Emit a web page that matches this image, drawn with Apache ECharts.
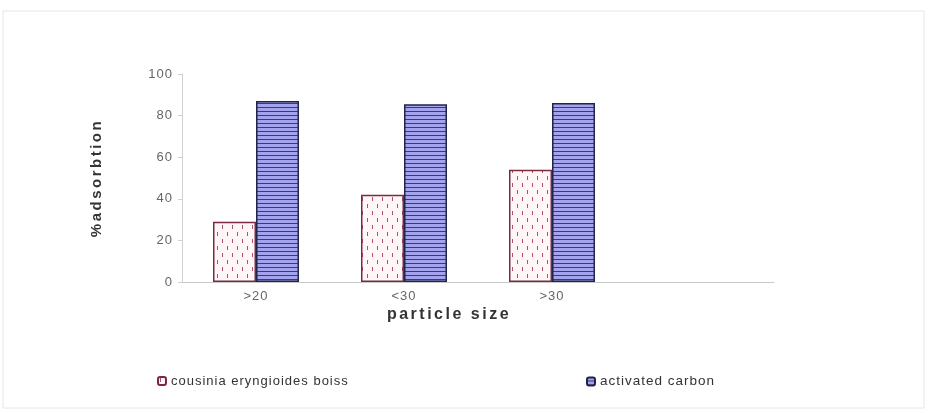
<!DOCTYPE html>
<html><head><meta charset="utf-8">
<script src="https://cdn.jsdelivr.net/npm/echarts@6/dist/echarts.min.js"></script>
<style>html,body{margin:0;padding:0;background:#fff}#c{width:928px;height:413px}</style>
</head><body><div id="c"></div>
<script>
const categories = ['>20', '<30', '>30', ''];
const cousinia = [29, 42, 54, null];
const carbon = [87, 85.5, 86, null];
const yTicks = [0, 20, 40, 60, 80, 100];

// widen glyph spacing like the scanned original
(function () {
  const P = CanvasRenderingContext2D.prototype;
  if (!('letterSpacing' in P)) return;
  const spacing = ctx => (/bold|700/.test(ctx.font) ? '2.5px' : '1px');
  const f = P.fillText, m = P.measureText;
  P.fillText = function () { this.letterSpacing = spacing(this); return f.apply(this, arguments); };
  P.measureText = function () { this.letterSpacing = spacing(this); return m.apply(this, arguments); };
})();

function dotPattern() {
  const c = document.createElement('canvas');
  c.width = 10; c.height = 14;
  const g = c.getContext('2d');
  g.fillStyle = '#fff6f8'; g.fillRect(0, 0, 10, 14);
  g.strokeStyle = '#b0506a'; g.lineWidth = 1;
  g.beginPath(); g.moveTo(2.5, 1); g.lineTo(2.5, 5); g.stroke();
  g.beginPath(); g.moveTo(7.5, 8); g.lineTo(7.5, 12); g.stroke();
  return c;
}
function linePattern() {
  const c = document.createElement('canvas');
  c.width = 8; c.height = 4;
  const g = c.getContext('2d');
  g.fillStyle = '#a4a4ee'; g.fillRect(0, 0, 8, 4);
  g.fillStyle = '#3a3a78'; g.fillRect(0, 3, 8, 1);
  return c;
}

const chart = echarts.init(document.getElementById('c'), null, {renderer: 'canvas'});
const font = 'Liberation Sans, Arial, sans-serif';
chart.setOption({
  animation: false,
  graphic: [{type: 'rect', shape: {x: 3, y: 11, width: 921, height: 397}, style: {fill: 'none', stroke: '#e6e6e6', lineWidth: 1}}],
  grid: {left: 182, right: 154, top: 74, bottom: 131},
  legend: [
    {data: ['cousinia eryngioides boiss'], left: 152, top: 369, itemWidth: 8, itemHeight: 8, itemGap: 4,
     textStyle: {fontFamily: font, fontSize: 13, color: '#333'}},
    {data: ['activated carbon'], left: 581, top: 369, itemWidth: 8, itemHeight: 8,
     textStyle: {fontFamily: font, fontSize: 13.5, color: '#333'}}
  ],
  xAxis: {
    type: 'category', data: categories,
    name: 'particle size', nameLocation: 'middle', nameGap: 23, nameMoveOverlap: false,
    nameTextStyle: {fontFamily: font, fontSize: 16, fontWeight: 'bold', color: '#333', padding: [0, 58, 0, 0]},
    axisLine: {lineStyle: {color: '#c8c8c8'}},
    axisTick: {lineStyle: {color: '#c8c8c8'}, length: 4},
    axisLabel: {fontFamily: font, fontSize: 13, color: '#666', margin: 7}
  },
  yAxis: {
    type: 'value', min: 0, max: 100, interval: 20,
    name: '%adsorbtion', nameLocation: 'middle', nameGap: 76, nameRotate: 90, nameMoveOverlap: false,
    nameTextStyle: {fontFamily: font, fontSize: 15, fontWeight: 'bold', color: '#333'},
    axisLine: {show: true, lineStyle: {color: '#d0d0d0'}},
    axisTick: {show: true, lineStyle: {color: '#d0d0d0'}, length: 4},
    splitLine: {show: false},
    axisLabel: {fontFamily: font, fontSize: 13, color: '#666', margin: 9,
      formatter: v => yTicks.includes(v) ? String(v) : ''}
  },
  series: [
    {name: 'cousinia eryngioides boiss', type: 'bar', data: cousinia, barWidth: 43, barGap: '0%',
     itemStyle: {color: {image: dotPattern(), repeat: 'repeat'}, borderColor: '#7a2a40', borderWidth: 1.5}},
    {name: 'activated carbon', type: 'bar', data: carbon, barWidth: 43, barGap: '0%',
     itemStyle: {color: {image: linePattern(), repeat: 'repeat'}, borderColor: '#23234a', borderWidth: 1.5}}
  ]
});
</script></body></html>
